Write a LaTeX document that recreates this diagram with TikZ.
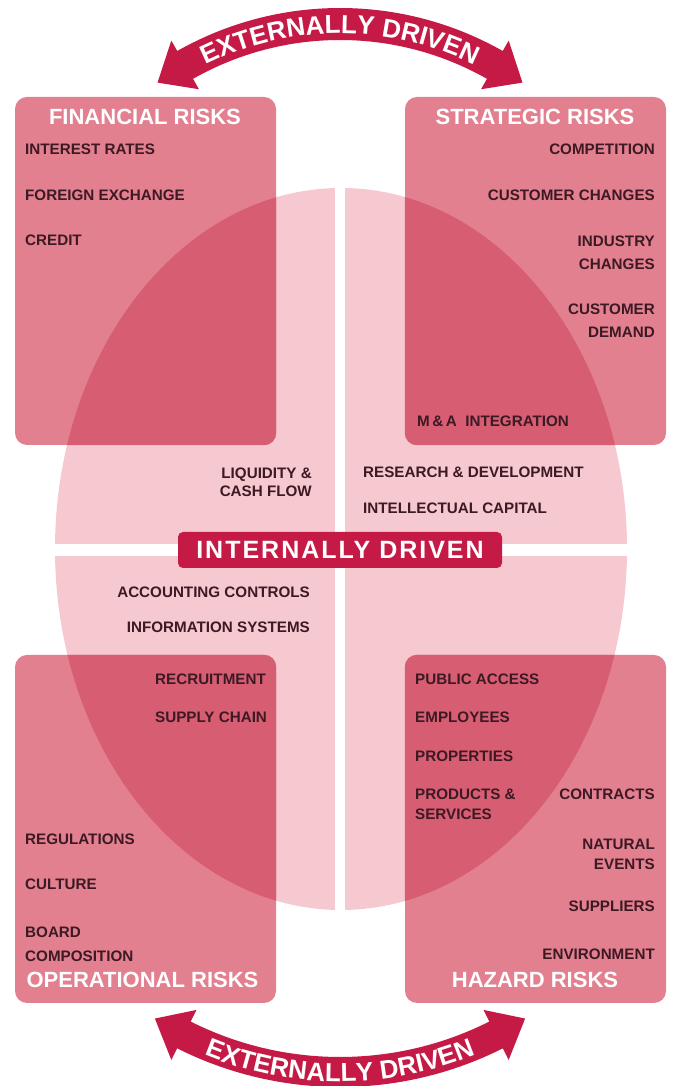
\documentclass[tikz,border=0pt]{standalone}
\usepackage{fontspec}
\setmainfont{Liberation Sans}
\usetikzlibrary{decorations.text}
\definecolor{lightpink}{RGB}{246,200,208}
\definecolor{boxpink}{RGB}{226,128,144}
\definecolor{darkpink}{RGB}{215,94,114}
\definecolor{crimson}{RGB}{197,25,70}
\definecolor{textdark}{RGB}{60,25,35}
\newcommand\itemfont{\bfseries\fontsize{15.2}{18}\selectfont}
\newcommand\titlefont{\bfseries\fontsize{22}{26}\selectfont}
\newcommand\intfont{\bfseries\fontsize{25}{30}\selectfont\addfontfeature{LetterSpace=8}}
\newcommand\arcfont{\bfseries\fontsize{26}{30}\selectfont}
\begin{document}
\begin{tikzpicture}[x=1pt,y=1pt,
 item/.style={font=\itemfont, text=textdark, inner sep=0pt},
 lw/.style={item, anchor=base west},
 re/.style={item, anchor=base east},
 ttl/.style={font=\titlefont, text=white, inner sep=0pt, anchor=base},
 riskbox/.style={fill=boxpink, rounded corners=12pt, inner sep=0pt, minimum width=261pt, minimum height=348pt},
 intbox/.style={fill=crimson, rounded corners=5pt, text=white, font=\intfont, minimum width=324pt, minimum height=36pt, text height=18pt, text depth=0pt, inner sep=0pt},
 band/.style={fill=crimson}
]
\useasboundingbox (0,0) rectangle (673,1086);
% central ellipse with white cross
\fill[lightpink] (341,537) ellipse [x radius=286, y radius=361];
\fill[white] (335,160) rectangle (345,910);
\fill[white] (45,530) rectangle (640,542);
% risk boxes
\node[riskbox] (fin) at (145.5,815) {};
\node[riskbox] (str) at (535.5,815) {};
\node[riskbox] (ope) at (145.5,257) {};
\node[riskbox] (haz) at (535.5,257) {};
\foreach \b in {fin,str,ope,haz}{
  \begin{scope}
    \clip[rounded corners=12pt] (\b.south west) rectangle (\b.north east);
    \fill[darkpink] (341,537) ellipse [x radius=286, y radius=361];
  \end{scope}
}
% titles
\node[ttl] (tfin) at (145,961) {FINANCIAL RISKS};
\node[ttl] (tstr) at (535,961) {STRATEGIC RISKS};
\node[ttl] (tope) at (142.5,98) {OPERATIONAL RISKS};
\node[ttl] (thaz) at (535,98) {HAZARD RISKS};
% financial
\node[lw] (f1) at (25,931) {INTEREST RATES};
\node[lw] (f2) at (25,885) {FOREIGN EXCHANGE};
\node[lw] (f3) at (25,840) {CREDIT};
% strategic
\node[re] (s1) at (655,931) {COMPETITION};
\node[re] (s2) at (655,885) {CUSTOMER CHANGES};
\node[re] (s3a) at (655,839) {INDUSTRY};
\node[re] (s3b) at (655,816) {CHANGES};
\node[re] (s4a) at (655,771) {CUSTOMER};
\node[re] (s4b) at (655,748) {DEMAND};
\node[lw] (s5) at (417,659) {M\,\&\,A\ \ INTEGRATION};
% centre
\node[re] (c1a) at (312,607) {LIQUIDITY \&};
\node[re] (c1b) at (312,589) {CASH FLOW};
\node[lw] (c2) at (363,608) {RESEARCH \& DEVELOPMENT};
\node[lw] (c3) at (363,572) {INTELLECTUAL CAPITAL};
\node[re] (c4) at (310,488) {ACCOUNTING CONTROLS};
\node[re] (c5) at (310,453) {INFORMATION SYSTEMS};
% operational
\node[lw] (o1) at (155,401) {RECRUITMENT};
\node[lw] (o2) at (155,363) {SUPPLY CHAIN};
\node[lw] (o3) at (25,241) {REGULATIONS};
\node[lw] (o4) at (25,196) {CULTURE};
\node[lw] (o5a) at (25,148) {BOARD};
\node[lw] (o5b) at (25,124) {COMPOSITION};
% hazard
\node[lw] (h1) at (415,401) {PUBLIC ACCESS};
\node[lw] (h2) at (415,363) {EMPLOYEES};
\node[lw] (h3) at (415,324) {PROPERTIES};
\node[lw] (h4a) at (415,286) {PRODUCTS \&};
\node[lw] (h4b) at (415,266) {SERVICES};
\node[re] (h5) at (655,286) {CONTRACTS};
\node[re] (h6a) at (655,236) {NATURAL};
\node[re] (h6b) at (655,216) {EVENTS};
\node[re] (h7) at (655,174) {SUPPLIERS};
\node[re] (h8) at (655,126) {ENVIRONMENT};
% internally driven band
\node[intbox] (int) at (340,536) {INTERNALLY DRIVEN};
% top curved double arrow
\begin{scope}[shift={(340,748.5)}]
  \fill[band] (119.6:297.5) arc[start angle=119.6, end angle=60.4, radius=297.5]
    -- (60.4:285.5) -- (54.4:313.5) -- (60.4:341.5) -- (60.4:329.5)
    arc[start angle=60.4, end angle=119.6, radius=329.5]
    -- (119.6:341.5) -- (125.6:313.5) -- (119.6:285.5) -- cycle;
  \path[decorate, decoration={text along path, text align=center,
      text={|\arcfont\color{white}|EXTERNALLY DRIVEN}}]
    (119.6:304) arc[start angle=119.6, end angle=60.4, radius=304];
\end{scope}
% bottom curved double arrow
\begin{scope}[shift={(340,361.4)}]
  \fill[band] (243.3:332.4) arc[start angle=243.3, end angle=296.7, radius=332.4]
    -- (296.7:319.4) -- (302.2:347.4) -- (296.7:375.4) -- (296.7:362.4)
    arc[start angle=296.7, end angle=243.3, radius=362.4]
    -- (243.3:375.4) -- (237.8:347.4) -- (243.3:319.4) -- cycle;
  \path[decorate, decoration={text along path, text align=center,
      text={|\arcfont\color{white}|EXTERNALLY DRIVEN}}]
    (243.3:357) arc[start angle=243.3, end angle=296.7, radius=357];
\end{scope}
\end{tikzpicture}
\end{document}
